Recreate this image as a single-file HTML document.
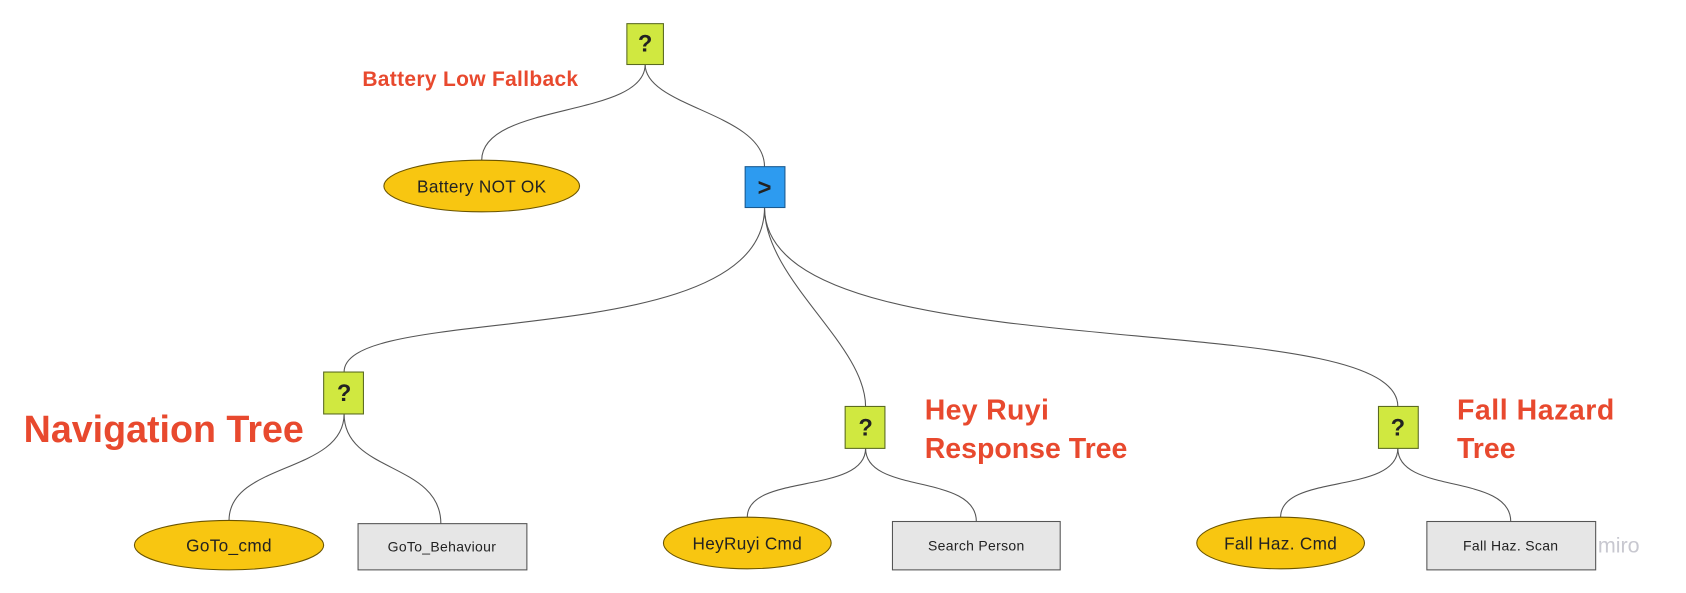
<!DOCTYPE html>
<html><head><meta charset="utf-8"><style>
html,body{margin:0;padding:0;background:#fff;}
svg{display:block;}
text{font-family:"Liberation Sans","DejaVu Sans",sans-serif;}
</style></head><body>
<svg width="1686" height="593" viewBox="0 0 1568 551.5" xmlns="http://www.w3.org/2000/svg">
<g fill="none" stroke="#555" stroke-width="1">
<path d="M600,60 C600,110 448,95 448,149"/>
<path d="M600,60 C600,100 711,105 711,155"/>
<path d="M711,193 C711,330 320,280 320,346"/>
<path d="M711,193 C711,260 805,320 805,378"/>
<path d="M711,193 C711,350 1300,280 1300,378"/>
<path d="M320,385 C320,440 213,430 213,484"/>
<path d="M320,385 C320,440 410,430 410,487"/>
<path d="M805,417 C805,460 695,440 695,481"/>
<path d="M805,417 C805,460 908,440 908,485"/>
<path d="M1300,417 C1300,460 1191,440 1191,481"/>
<path d="M1300,417 C1300,460 1405,440 1405,485"/>
</g>
<g stroke="#5a6a20" stroke-width="1" fill="#d0e840">
<rect x="583" y="22" width="34" height="38"/>
<rect x="301" y="346" width="37" height="39"/>
<rect x="786" y="378" width="37" height="39"/>
<rect x="1282" y="378" width="37" height="39"/>
</g>
<rect x="693" y="155" width="37" height="38" fill="#2d9bf0" stroke="#1a5a90"/>
<g font-weight="bold" font-size="22" fill="#222" text-anchor="middle">
<text x="600" y="48">?</text>
<text x="320" y="373">?</text>
<text x="805" y="405">?</text>
<text x="1300" y="405">?</text>
<text x="711" y="182">&gt;</text>
</g>
<g fill="#f8c611" stroke="#6a5400">
<ellipse cx="448" cy="173" rx="91" ry="24"/>
<ellipse cx="213" cy="507" rx="88" ry="23"/>
<ellipse cx="695" cy="505" rx="78" ry="24"/>
<ellipse cx="1191" cy="505" rx="78" ry="24"/>
</g>
<g fill="#e6e6e6" stroke="#555">
<rect x="333" y="487" width="157" height="43"/>
<rect x="830" y="485" width="156" height="45"/>
<rect x="1327" y="485" width="157" height="45"/>
</g>
<g fill="#222" text-anchor="middle" letter-spacing="0.3">
<text x="448" y="179" font-size="16">Battery NOT OK</text>
<text x="213" y="513" font-size="16">GoTo_cmd</text>
<text x="695" y="511" font-size="16">HeyRuyi Cmd</text>
<text x="1191" y="511" font-size="16">Fall Haz. Cmd</text>
<text x="411" y="513" font-size="13">GoTo_Behaviour</text>
<text x="908" y="512" font-size="13">Search Person</text>
<text x="1405" y="512" font-size="13">Fall Haz. Scan</text>
</g>
<g fill="#e8492e" font-weight="bold">
<text x="337" y="80" font-size="19.5" letter-spacing="0.3">Battery Low Fallback</text>
<text x="22" y="411" font-size="35">Navigation Tree</text>
<text x="860" y="390" font-size="26.5" letter-spacing="0.3">Hey Ruyi</text>
<text x="860" y="426" font-size="26.5">Response Tree</text>
<text x="1355" y="390" font-size="26.5" letter-spacing="0.5">Fall Hazard</text>
<text x="1355" y="426" font-size="26.5">Tree</text>
</g>
<text x="1486" y="514" font-size="20" fill="#c8c8d0">miro</text>
</svg>
</body></html>
